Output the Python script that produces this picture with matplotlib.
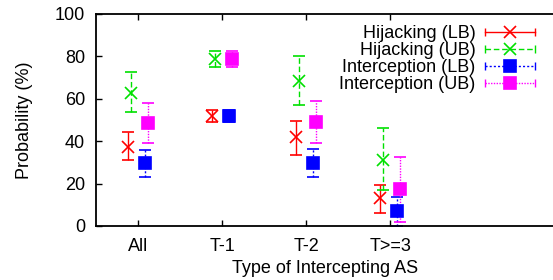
import numpy as np
import matplotlib
matplotlib.use('Agg')
import matplotlib.pyplot as plt
from matplotlib.lines import Line2D
from matplotlib.legend_handler import HandlerLine2D

plt.rcParams['font.family'] = ['Liberation Sans', 'DejaVu Sans']

categories = ['All', 'T-1', 'T-2', 'T>=3']

hij_lb = [37.3, 51.9, 42.0, 13.2]
hij_lb_lo = [31.0, 49.0, 33.5, 6.1]
hij_lb_hi = [44.3, 54.7, 49.5, 19.3]

hij_ub = [62.7, 78.8, 68.4, 31.1]
hij_ub_lo = [53.6, 75.0, 57.0, 17.0]
hij_ub_hi = [72.6, 82.5, 80.2, 46.2]

int_lb = [29.7, 51.9, 29.7, 7.0]
int_lb_lo = [23.0, 49.0, 23.0, 0.0]
int_lb_hi = [35.8, 54.7, 36.3, 13.7]

int_ub = [48.5, 78.8, 49.0, 17.5]
int_ub_lo = [39.0, 75.0, 39.0, 2.0]
int_ub_hi = [58.0, 82.5, 59.0, 32.5]

series = [
    ('Hijacking (LB)', hij_lb, hij_lb_lo, hij_lb_hi, '#ff0000', 'x', '-', -0.12, 9),
    ('Hijacking (UB)', hij_ub, hij_ub_lo, hij_ub_hi, '#00e000', 'x', (0, (4, 2)), -0.08, 9),
    ('Interception (LB)', int_lb, int_lb_lo, int_lb_hi, '#0000ff', 's', (0, (1.5, 1.5)), 0.08, 8),
    ('Interception (UB)', int_ub, int_ub_lo, int_ub_hi, '#ff00ff', 's', (0, (1, 1)), 0.12, 8),
]


class CapHandler(HandlerLine2D):
    def create_artists(self, legend, orig_handle, xdescent, ydescent,
                       width, height, fontsize, trans):
        arts = super().create_artists(legend, orig_handle, xdescent, ydescent,
                                      width, height, fontsize, trans)
        y = (height - ydescent) / 2
        caps = Line2D([-xdescent, -xdescent + width], [y, y], linestyle='none',
                      marker='|', markersize=6, color=orig_handle.get_color(),
                      transform=trans)
        return list(arts) + [caps]


fig = plt.figure(figsize=(5.53, 2.8), dpi=100)
ax = fig.add_axes([0.174, 0.193, 0.826, 0.757])

x = np.arange(1, len(categories) + 1)
handles = []
for name, val, lo, hi, col, mk, ls, off, ms in series:
    val = np.array(val)
    yerr = [val - np.array(lo), np.array(hi) - val]
    cont = ax.errorbar(x + off, val, yerr=yerr, fmt=mk, color=col, ms=ms,
                       mew=1.2, elinewidth=1.0, capsize=4, capthick=1.0,
                       clip_on=False)
    cont[2][0].set_linestyle(ls)
    handles.append(Line2D([], [], color=col, linestyle=ls, lw=1.0,
                          marker=mk, ms=ms, mew=1.2, label=name))

ax.set_xlim(0.5, 5.94)
ax.set_ylim(0, 100)
ax.set_xticks(x)
ax.set_xticklabels(categories)
ax.set_yticks(np.arange(0, 101, 20))
ax.tick_params(direction='in', length=4, labelsize=13, top=True, width=1)
ax.tick_params(axis='y', pad=8)
ax.tick_params(axis='x', pad=9)
ax.spines['right'].set_visible(False)
for s in ['left', 'bottom', 'top']:
    ax.spines[s].set_linewidth(1.3)
ax.set_xlabel('Type of Intercepting AS', fontsize=13, labelpad=3)
ax.set_ylabel('Probability (%)', fontsize=13, labelpad=16)

ax.legend(handles=handles, loc='upper right', bbox_to_anchor=(0.985, 1.0),
          frameon=False, markerfirst=False, fontsize=13, handlelength=2.8,
          handletextpad=0.5, labelspacing=0.0, borderaxespad=0.2,
          handler_map={Line2D: CapHandler()})

fig.savefig('out.png', dpi=100)
